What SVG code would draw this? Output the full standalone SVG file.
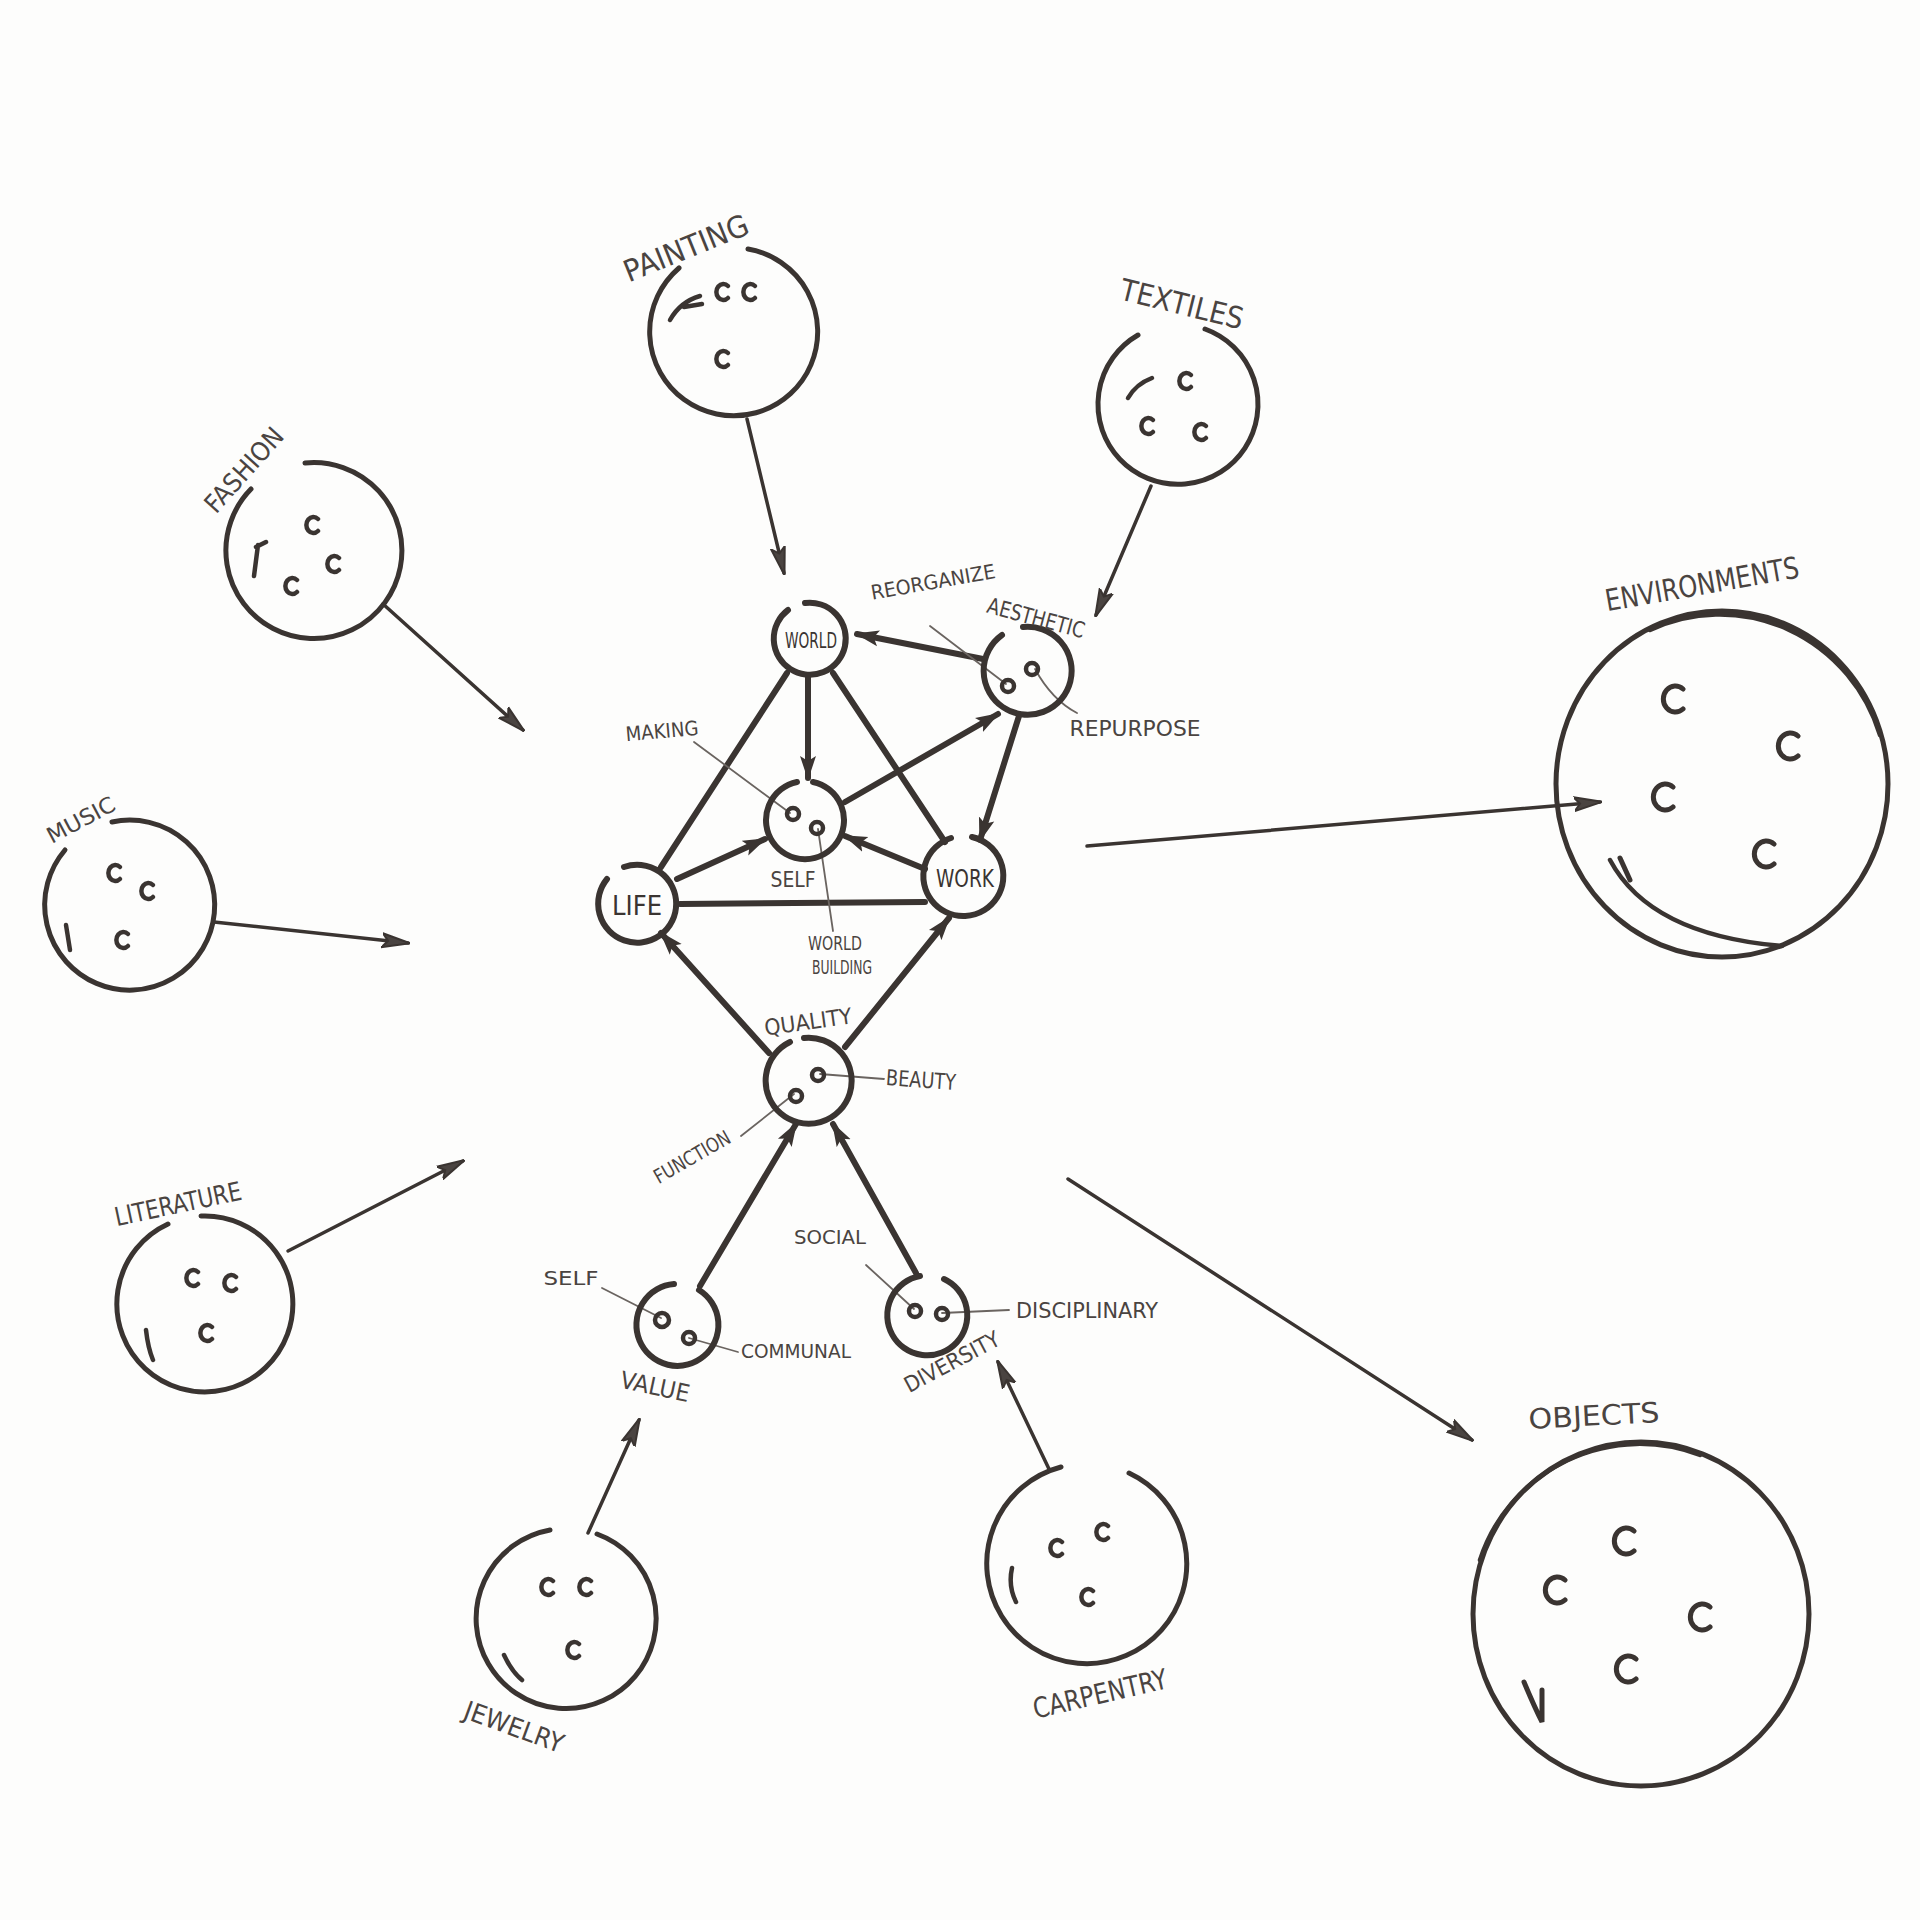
<svg xmlns="http://www.w3.org/2000/svg" width="1920" height="1920" viewBox="0 0 1920 1920">
<defs>
<style>
.n{fill:none;stroke:#3a3431;stroke-width:5;stroke-linecap:round}
.nc{fill:none;stroke:#3a3431;stroke-width:6;stroke-linecap:round}
.d{fill:none;stroke:#3a3431;stroke-width:4.5;stroke-linecap:round}
.c{fill:none;stroke:#3a3431;stroke-width:6;stroke-linecap:round}
.co{fill:none;stroke:#3a3431;stroke-width:3.5;stroke-linecap:round}
.ld{fill:none;stroke:#6a6460;stroke-width:1.8;stroke-linecap:round}
.t{font-family:"Liberation Sans Narrow","DejaVu Sans Condensed","Liberation Sans",sans-serif;fill:#4a4441;text-anchor:middle;dominant-baseline:central}
.tb{font-family:"Liberation Sans Narrow","DejaVu Sans Condensed","Liberation Sans",sans-serif;fill:#3a3431;text-anchor:middle;dominant-baseline:central}
</style>
<marker id="ai" viewBox="0 0 24 18" markerWidth="24" markerHeight="18" refX="22" refY="9" orient="auto" markerUnits="userSpaceOnUse"><path d="M0,1 L24,9 L0,17 L5,9 z" fill="#3a3431"/></marker>
<marker id="ao" viewBox="0 0 28 18" markerWidth="28" markerHeight="18" refX="26" refY="9" orient="auto" markerUnits="userSpaceOnUse"><path d="M0,2 L28,9 L0,16 L6,9 z" fill="#4a4441" stroke="#3a3431" stroke-width="2"/></marker>
</defs>
<rect width="1920" height="1920" fill="#fdfdfc"/>

<g id="connectors">
<line class="co" x1="747" y1="419" x2="784" y2="573" marker-end="url(#ao)"/>
<line class="co" x1="1151" y1="486" x2="1096" y2="615" marker-end="url(#ao)"/>
<line class="co" x1="383" y1="604" x2="523" y2="730" marker-end="url(#ao)"/>
<line class="co" x1="214" y1="922" x2="408" y2="943" marker-end="url(#ao)"/>
<line class="co" x1="288" y1="1251" x2="463" y2="1161" marker-end="url(#ao)"/>
<line class="co" x1="588" y1="1533" x2="639" y2="1420" marker-end="url(#ao)"/>
<line class="co" x1="1049" y1="1469" x2="998" y2="1362" marker-end="url(#ao)"/>
<line class="co" x1="1068" y1="1179" x2="1472" y2="1440" marker-end="url(#ao)"/>
<line class="co" x1="1087" y1="846" x2="1600" y2="802" marker-end="url(#ao)"/>

<line class="c" x1="983" y1="659" x2="857" y2="634" marker-end="url(#ai)"/>
<line class="c" x1="808" y1="677" x2="808" y2="778" marker-end="url(#ai)"/>
<line class="c" x1="787" y1="673" x2="661" y2="867"/>
<line class="c" x1="833" y1="673" x2="945" y2="842"/>
<line class="c" x1="845" y1="802" x2="998" y2="714" marker-end="url(#ai)"/>
<line class="c" x1="1019" y1="716" x2="980" y2="840" marker-end="url(#ai)"/>
<line class="c" x1="677" y1="879" x2="765" y2="839" marker-end="url(#ai)"/>
<line class="c" x1="925" y1="869" x2="845" y2="836" marker-end="url(#ai)"/>
<line class="c" x1="680" y1="904" x2="925" y2="902"/>
<line class="c" x1="769" y1="1053" x2="661" y2="933" marker-end="url(#ai)"/>
<line class="c" x1="845" y1="1047" x2="949" y2="918" marker-end="url(#ai)"/>
<line class="c" x1="700" y1="1286" x2="796" y2="1124" marker-end="url(#ai)"/>
<line class="c" x1="916" y1="1273" x2="833" y2="1124" marker-end="url(#ai)"/>

<line class="ld" x1="930" y1="626" x2="1006" y2="684"/>
<path class="ld" d="M1035,669 Q1052,700 1077,713"/>
<line class="ld" x1="694" y1="742" x2="790" y2="813"/>
<line class="ld" x1="818" y1="829" x2="833" y2="931"/>
<line class="ld" x1="820" y1="1074" x2="884" y2="1079"/>
<line class="ld" x1="741" y1="1136" x2="794" y2="1094"/>
<line class="ld" x1="602" y1="1288" x2="661" y2="1318"/>
<line class="ld" x1="689" y1="1338" x2="738" y2="1352"/>
<line class="ld" x1="942" y1="1313" x2="1009" y2="1310"/>
<line class="ld" x1="866" y1="1265" x2="914" y2="1309"/>
</g>

<g id="painting">
<path class="n" d="M748,249 A84,84 0 1 1 679,268"/>
<path class="d" d="M728,286 a7,8 0 1 0 0,12 M755,286 a7,8 0 1 0 0,12 M728,353 a7,8 0 1 0 0,12 M670,320 Q680,302 700,296 M684,307 L702,304"/>
<text class="t" x="686" y="248" font-size="30" transform="rotate(-22 686 248)" textLength="132" lengthAdjust="spacingAndGlyphs">PAINTING</text>
</g>

<g id="textiles">
<path class="n" d="M1205,329 A80,80 0 1 1 1138,335"/>
<path class="d" d="M1191,375 a7,8 0 1 0 0,12 M1153,420 a7,8 0 1 0 0,12 M1206,426 a7,8 0 1 0 0,12 M1128,398 Q1136,384 1152,378"/>
<text class="t" x="1182" y="304" font-size="30" transform="rotate(14 1182 304)" textLength="126" lengthAdjust="spacingAndGlyphs">TEXTILES</text>
</g>

<g id="fashion">
<path class="n" d="M305,463 A88,88 0 1 1 251,489"/>
<path class="d" d="M318,519 a7,8 0 1 0 0,12 M339,558 a7,8 0 1 0 0,12 M297,580 a7,8 0 1 0 0,12 M258,545 L254,576 M256,547 L266,542"/>
<text class="t" x="244" y="470" font-size="26" transform="rotate(-48 244 470)" textLength="104" lengthAdjust="spacingAndGlyphs">FASHION</text>
</g>

<g id="music">
<path class="n" d="M112,822 A85,85 0 1 1 65,850"/>
<path class="d" d="M120,867 a7,8 0 1 0 0,12 M153,885 a7,8 0 1 0 0,12 M128,934 a7,8 0 1 0 0,12 M66,925 L70,950"/>
<text class="t" x="81" y="820" font-size="22" transform="rotate(-28 81 820)" textLength="74" lengthAdjust="spacingAndGlyphs">MUSIC</text>
</g>

<g id="literature">
<path class="n" d="M201,1216 A88,88 0 1 1 168,1224"/>
<path class="d" d="M198,1272 a7,8 0 1 0 0,12 M236,1277 a7,8 0 1 0 0,12 M212,1327 a7,8 0 1 0 0,12 M146,1330 Q148,1348 153,1360"/>
<text class="t" x="178" y="1204" font-size="26" transform="rotate(-12 178 1204)" textLength="129" lengthAdjust="spacingAndGlyphs">LITERATURE</text>
</g>

<g id="jewelry">
<path class="n" d="M597,1534 A90,90 0 1 1 550,1530"/>
<path class="d" d="M553,1581 a7,8 0 1 0 0,12 M591,1581 a7,8 0 1 0 0,12 M579,1644 a7,8 0 1 0 0,12 M504,1655 Q512,1672 522,1680"/>
<text class="t" x="514" y="1727" font-size="26" transform="rotate(20 514 1727)" textLength="104" lengthAdjust="spacingAndGlyphs">JEWELRY</text>
</g>

<g id="carpentry">
<path class="n" d="M1129,1473 A100,100 0 1 1 1061,1467"/>
<path class="d" d="M1062,1542 a7,8 0 1 0 0,12 M1108,1526 a7,8 0 1 0 0,12 M1093,1591 a7,8 0 1 0 0,12 M1012,1568 Q1008,1586 1016,1602"/>
<text class="t" x="1100" y="1694" font-size="28" transform="rotate(-13 1100 1694)" textLength="137" lengthAdjust="spacingAndGlyphs">CARPENTRY</text>
</g>

<g id="objects">
<ellipse class="n" cx="1641" cy="1614" rx="168" ry="172"/>
<path class="d" d="M1480,1560 A168,168 0 0 1 1700,1455" stroke-width="3"/>
<path class="n" d="M1634,1531 a12,13 0 1 0 0,20 M1565,1580 a12,13 0 1 0 0,20 M1710,1607 a12,13 0 1 0 0,20 M1636,1659 a12,13 0 1 0 0,20 M1524,1682 Q1534,1706 1542,1722 L1542,1690"/>
<text class="t" x="1594" y="1416" font-size="28" transform="rotate(-3 1594 1416)" textLength="131" lengthAdjust="spacingAndGlyphs">OBJECTS</text>
</g>

<g id="environments">
<ellipse class="n" cx="1722" cy="784" rx="166" ry="173"/>
<path class="d" d="M1650,630 A168,172 0 0 1 1880,735" stroke-width="3.5"/>
<path class="d" d="M1610,860 Q1650,935 1782,946" stroke-width="3"/>
<path class="n" d="M1683,689 a12,13 0 1 0 0,20 M1798,736 a12,13 0 1 0 0,20 M1673,787 a12,13 0 1 0 0,20 M1774,844 a12,13 0 1 0 0,20 M1620,858 L1630,880"/>
<text class="t" x="1702" y="584" font-size="30" transform="rotate(-10 1702 584)" textLength="196" lengthAdjust="spacingAndGlyphs">ENVIRONMENTS</text>
</g>

<g id="world">
<path class="nc" d="M805,603 A36,36 0 1 1 788,610"/>
<text class="tb" x="811" y="640" font-size="22" textLength="52" lengthAdjust="spacingAndGlyphs">WORLD</text>
</g>

<g id="aesthetic">
<path class="nc" d="M1023,627 A44,44 0 1 1 1002,635"/>
<circle class="d" cx="1008" cy="686" r="6"/>
<circle class="d" cx="1032" cy="669" r="6"/>
<text class="t" x="1036" y="618" font-size="22" transform="rotate(15 1036 618)" textLength="100" lengthAdjust="spacingAndGlyphs">AESTHETIC</text>
<text class="t" x="933" y="582" font-size="20" transform="rotate(-10 933 582)" textLength="126" lengthAdjust="spacingAndGlyphs">REORGANIZE</text>
<text class="t" x="1135" y="728" font-size="22" textLength="131" lengthAdjust="spacingAndGlyphs">REPURPOSE</text>
</g>

<g id="self">
<path class="nc" d="M813,782 A39,39 0 1 1 797,782"/>
<circle class="d" cx="793" cy="814" r="6"/>
<circle class="d" cx="817" cy="828" r="6"/>
<text class="t" x="793" y="879" font-size="22" textLength="45" lengthAdjust="spacingAndGlyphs">SELF</text>
<text class="t" x="662" y="731" font-size="20" transform="rotate(-5 662 731)" textLength="73" lengthAdjust="spacingAndGlyphs">MAKING</text>
<text class="t" x="835" y="943" font-size="20" textLength="54" lengthAdjust="spacingAndGlyphs">WORLD</text>
<text class="t" x="842" y="967" font-size="20" textLength="60" lengthAdjust="spacingAndGlyphs">BUILDING</text>
</g>

<g id="life">
<path class="nc" d="M624,867 A39,39 0 1 1 607,879"/>
<text class="tb" x="637" y="906" font-size="26" textLength="50" lengthAdjust="spacingAndGlyphs">LIFE</text>
</g>

<g id="work">
<path class="nc" d="M972,837 A40,40 0 1 1 951,838"/>
<text class="tb" x="965" y="879" font-size="24" textLength="58" lengthAdjust="spacingAndGlyphs">WORK</text>
</g>

<g id="quality">
<path class="nc" d="M804,1038 A43,43 0 1 1 790,1042"/>
<circle class="d" cx="796" cy="1096" r="6"/>
<circle class="d" cx="818" cy="1075" r="6"/>
<text class="t" x="808" y="1022" font-size="22" transform="rotate(-8 808 1022)" textLength="88" lengthAdjust="spacingAndGlyphs">QUALITY</text>
<text class="t" x="921" y="1080" font-size="22" transform="rotate(4 921 1080)" textLength="70" lengthAdjust="spacingAndGlyphs">BEAUTY</text>
<text class="t" x="692" y="1157" font-size="20" transform="rotate(-30 692 1157)" textLength="85" lengthAdjust="spacingAndGlyphs">FUNCTION</text>
<text class="t" x="830" y="1237" font-size="20" textLength="72" lengthAdjust="spacingAndGlyphs">SOCIAL</text>
</g>

<g id="value">
<path class="nc" d="M699,1290 A41,41 0 1 1 674,1284"/>
<circle class="d" cx="662" cy="1320" r="7"/>
<circle class="d" cx="689" cy="1338" r="6"/>
<text class="t" x="571" y="1278" font-size="20" textLength="55" lengthAdjust="spacingAndGlyphs">SELF</text>
<text class="t" x="796" y="1351" font-size="20" textLength="110" lengthAdjust="spacingAndGlyphs">COMMUNAL</text>
<text class="t" x="655" y="1387" font-size="24" transform="rotate(12 655 1387)" textLength="70" lengthAdjust="spacingAndGlyphs">VALUE</text>
</g>

<g id="diversity">
<path class="nc" d="M944,1279 A40,40 0 1 1 920,1276"/>
<circle class="d" cx="915" cy="1311" r="6"/>
<circle class="d" cx="942" cy="1314" r="6"/>
<text class="t" x="1087" y="1310" font-size="22" textLength="142" lengthAdjust="spacingAndGlyphs">DISCIPLINARY</text>
<text class="t" x="952" y="1362" font-size="22" transform="rotate(-28 952 1362)" textLength="105" lengthAdjust="spacingAndGlyphs">DIVERSITY</text>
</g>
</svg>
